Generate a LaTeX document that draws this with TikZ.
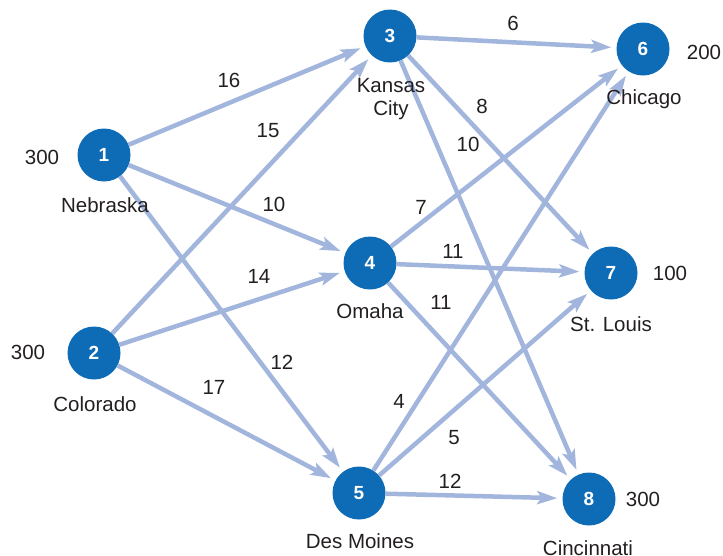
\documentclass[tikz,border=0pt]{standalone}
\usepackage{fontspec}
\setmainfont{Liberation Sans}
\usetikzlibrary{arrows.meta}
\definecolor{nodeblue}{HTML}{0E6BB5}
\definecolor{edgeblue}{HTML}{A2B5DD}
\definecolor{txt}{HTML}{231F20}
\begin{document}
\begin{tikzpicture}[x=1pt,y=-1pt,
  city/.style={circle,fill=nodeblue,minimum size=53pt,inner sep=0pt,text=white,font=\fontsize{19}{19}\selectfont\bfseries},
  lbl/.style={text=txt,font=\fontsize{20.5}{23}\selectfont,inner sep=0pt,align=center},
  route/.style={draw=edgeblue,line width=4.5pt,shorten >=5pt,-{Stealth[length=20pt,width=13pt,inset=4pt]}}]
\useasboundingbox (0,0) rectangle (723,555);
% nodes
\node[city] (n1) at (104,155) {1};
\node[city] (n2) at (94,353) {2};
\node[city] (n3) at (390,36) {3};
\node[city] (n4) at (370,263) {4};
\node[city] (n5) at (359,493) {5};
\node[city] (n6) at (643,49) {6};
\node[city] (n7) at (611,273) {7};
\node[city] (n8) at (589,499) {8};
% edges
\draw[route] (n1) -- (n3);
\draw[route] (n1) -- (n4);
\draw[route] (n1) -- (n5);
\draw[route] (n2) -- (n3);
\draw[route] (n2) -- (n4);
\draw[route] (n2) -- (n5);
\draw[route] (n3) -- (n6);
\draw[route] (n3) -- (n7);
\draw[route] (n3) -- (n8);
\draw[route] (n4) -- (n6);
\draw[route] (n4) -- (n7);
\draw[route] (n4) -- (n8);
\draw[route] (n5) -- (n6);
\draw[route] (n5) -- (n7);
\draw[route] (n5) -- (n8);
% node labels
\node[lbl] (s1) at (42,157) {300};
\node[lbl] (c1) at (105,205) {Nebraska};
\node[lbl] (s2) at (28,352) {300};
\node[lbl] (c2) at (95,404) {Colorado};
\node[lbl] (c3) at (391,99) {Kansas\\City};
\node[lbl] (c4) at (370,311) {Omaha};
\node[lbl] (c5) at (360,541) {Des Moines};
\node[lbl] (c6) at (644,99) {Chicago};
\node[lbl] (d6) at (704,52) {200};
\node[lbl] (c7) at (611,324) {St. Louis};
\node[lbl] (d7) at (670,273) {100};
\node[lbl] (c8) at (588,548) {Cincinnati};
\node[lbl] (d8) at (643,499) {300};
% edge costs
\node[lbl] (e13) at (229,80) {16};
\node[lbl] (e23) at (268,131) {15};
\node[lbl] (e14) at (274,204) {10};
\node[lbl] (e24) at (259,276) {14};
\node[lbl] (e15) at (282,362) {12};
\node[lbl] (e25) at (214,387) {17};
\node[lbl] (e36) at (513,23) {6};
\node[lbl] (e37) at (482,106) {8};
\node[lbl] (e38) at (468,144) {10};
\node[lbl] (e46) at (421,207) {7};
\node[lbl] (e47) at (453,251) {11};
\node[lbl] (e48) at (441,302) {11};
\node[lbl] (e56) at (399,401) {4};
\node[lbl] (e57) at (454,438) {5};
\node[lbl] (e58) at (450,481) {12};
\end{tikzpicture}
\end{document}
